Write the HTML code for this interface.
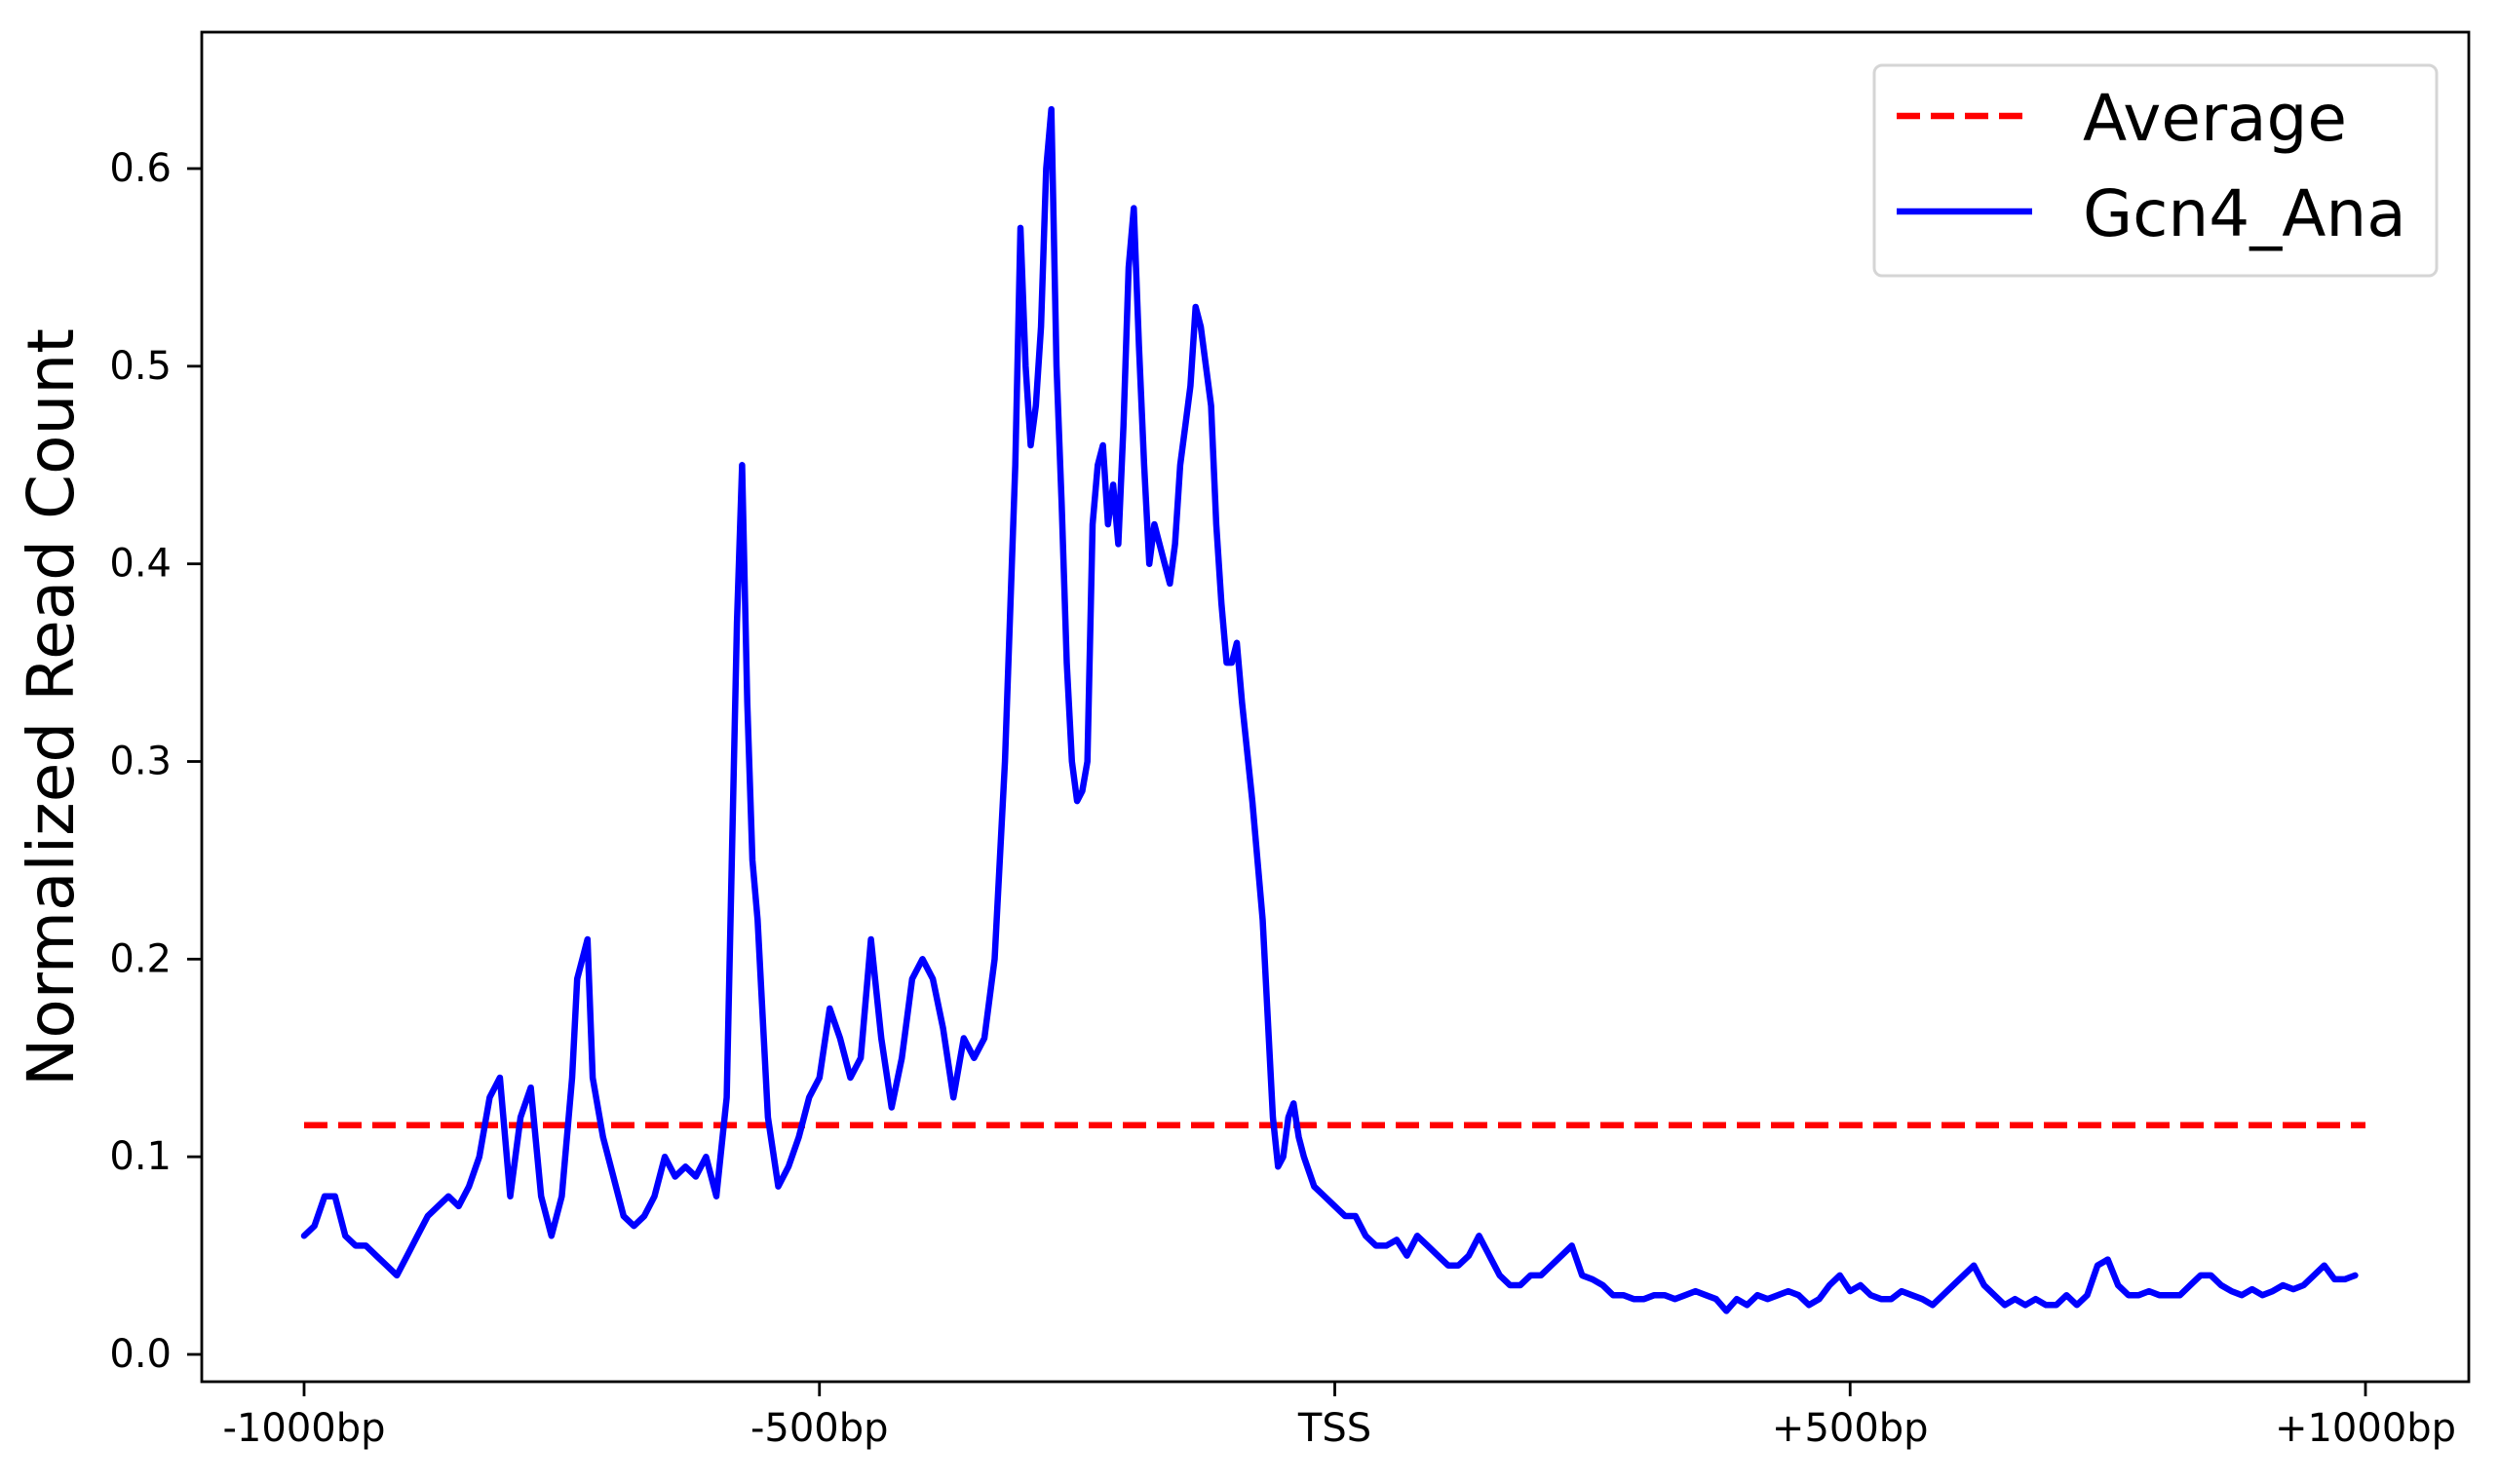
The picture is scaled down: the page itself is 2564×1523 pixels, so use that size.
<!DOCTYPE html>
<html><head><meta charset="utf-8"><style>
body{margin:0;background:#fff;}
svg text{font-family:"DejaVu Sans","Liberation Sans",sans-serif;fill:#000;}
</style></head><body>
<svg id="chart" width="2564" height="1518" xmlns="http://www.w3.org/2000/svg">
<rect width="2564" height="1518" fill="#fff"/>
<g id="plot"></g>
<rect x="207" y="33" width="2326" height="1385" fill="none" stroke="#000" stroke-width="2.8"/>
<g id="axes"></g>
<text x="57" y="726" font-size="66" text-anchor="middle" dominant-baseline="middle" transform="rotate(-90 57 726)">Normalized Read Count</text>
<g>
<rect x="1923" y="67" width="577" height="216" rx="8" fill="#fff" stroke="#d5d5d5" stroke-width="3"/>
<line x1="1946" y1="119" x2="2085" y2="119" stroke="#f00" stroke-width="6.5" stroke-dasharray="24,11"/>
<text x="2137" y="144" font-size="66">Average</text>
<line x1="1946" y1="217" x2="2085" y2="217" stroke="#00f" stroke-width="6.5"/>
<text x="2137" y="242" font-size="66">Gcn4_Ana</text>
</g>
</svg>
<script>
const positions=[-1000,-990,-980,-970,-960,-950,-940,-930,-920,-910,-900,-890,-880,-870,-860,-850,-840,-830,-820,-810,-800,-790,-780,-770,-760,-750,-740,-735,-730,-725,-720,-710,-700,-690,-680,-670,-660,-650,-640,-630,-620,-610,-600,-590,-580,-575,-570,-565,-560,-550,-540,-530,-520,-510,-500,-490,-480,-470,-460,-450,-440,-430,-420,-410,-400,-390,-380,-370,-360,-350,-340,-330,-320,-310,-305,-300,-295,-290,-285,-280,-275,-270,-265,-260,-255,-250,-245,-240,-235,-230,-225,-220,-215,-210,-205,-200,-195,-190,-185,-180,-175,-170,-165,-160,-155,-150,-145,-140,-135,-130,-125,-120,-115,-110,-105,-100,-95,-90,-80,-70,-60,-55,-50,-45,-40,-35,-30,-20,-10,0,10,20,30,40,50,60,70,80,90,100,110,120,130,140,150,160,170,180,190,200,210,220,230,240,250,260,270,280,290,300,310,320,330,340,350,360,370,380,390,400,410,420,430,440,450,460,470,480,490,500,510,520,530,540,550,560,570,580,590,600,610,620,630,640,650,660,670,680,690,700,710,720,730,740,750,760,770,780,790,800,810,820,830,840,850,860,870,880,890,900,910,920,930,940,950,960,970,980,990,1000];
const gcn4Values=[0.06,0.065,0.08,0.08,0.06,0.055,0.055,0.05,0.045,0.04,0.05,0.06,0.07,0.075,0.08,0.075,0.085,0.1,0.13,0.14,0.08,0.12,0.135,0.08,0.06,0.08,0.14,0.19,0.2,0.21,0.14,0.11,0.09,0.07,0.065,0.07,0.08,0.1,0.09,0.095,0.09,0.1,0.08,0.13,0.37,0.45,0.33,0.25,0.22,0.12,0.085,0.095,0.11,0.13,0.14,0.175,0.16,0.14,0.15,0.21,0.16,0.125,0.15,0.19,0.2,0.19,0.165,0.13,0.16,0.15,0.16,0.2,0.3,0.45,0.57,0.5,0.46,0.48,0.52,0.6,0.63,0.5,0.43,0.35,0.3,0.28,0.285,0.3,0.42,0.45,0.46,0.42,0.44,0.41,0.47,0.55,0.58,0.51,0.45,0.4,0.42,0.41,0.4,0.39,0.41,0.45,0.47,0.49,0.53,0.52,0.5,0.48,0.42,0.38,0.35,0.35,0.36,0.33,0.28,0.22,0.12,0.095,0.1,0.12,0.127,0.11,0.1,0.085,0.08,0.075,0.07,0.07,0.06,0.055,0.055,0.058,0.05,0.06,0.055,0.05,0.045,0.045,0.05,0.06,0.05,0.04,0.035,0.035,0.04,0.04,0.045,0.05,0.055,0.04,0.038,0.035,0.03,0.03,0.028,0.028,0.03,0.03,0.028,0.03,0.032,0.03,0.028,0.022,0.028,0.025,0.03,0.028,0.03,0.032,0.03,0.025,0.028,0.035,0.04,0.032,0.035,0.03,0.028,0.028,0.032,0.03,0.028,0.025,0.03,0.035,0.04,0.045,0.035,0.03,0.025,0.028,0.025,0.028,0.025,0.025,0.03,0.025,0.03,0.045,0.048,0.035,0.03,0.03,0.032,0.03,0.03,0.03,0.035,0.04,0.04,0.035,0.032,0.03,0.033,0.03,0.032,0.035,0.033,0.035,0.04,0.045,0.038,0.038,0.04];
const averageValue=0.116;
const yTicks=[0,0.1,0.2,0.3,0.4,0.5,0.6];
const yTickLabels=["0.0","0.1","0.2","0.3","0.4","0.5","0.6"];
const xTicks=[-1000,-500,0,500,1000];
const xTickLabels=["-1000bp","-500bp","TSS","+500bp","+1000bp"];

const NS="http://www.w3.org/2000/svg";
function xScale(p){return 312+(p+1000)/2000*(2427-312);}
function yScale(v){return 1390-v*(1390-173)/0.6;}
function mk(tag,attrs,parent){const e=document.createElementNS(NS,tag);for(const k in attrs)e.setAttribute(k,attrs[k]);parent.appendChild(e);return e;}
const plot=document.getElementById('plot');
const axes=document.getElementById('axes');

const avg=mk('line',{x1:xScale(-1000),x2:xScale(1000),y1:yScale(averageValue),y2:yScale(averageValue),stroke:'#f00','stroke-width':6.5,'stroke-dasharray':'24,11'},plot);



let d='';
positions.forEach((p,i)=>{d+=(i?'L':'M')+xScale(p).toFixed(1)+' '+yScale(gcn4Values[i]).toFixed(1);});
const ln=mk('path',{d:d,fill:'none',stroke:'#00f','stroke-width':6.5,'stroke-linejoin':'round','stroke-linecap':'round'},plot);



yTicks.forEach((v,i)=>{
  const y=yScale(v);
  const t=mk('line',{x1:192,x2:207,y1:y,y2:y,stroke:'#000','stroke-width':2.8},axes);
  
  
  const tx=mk('text',{x:176,y:y,'font-size':40,'text-anchor':'end','dominant-baseline':'central'},axes);
  tx.textContent=yTickLabels[i];
  
  
});
xTicks.forEach((p,i)=>{
  const x=xScale(p);
  const t=mk('line',{x1:x,x2:x,y1:1418,y2:1433,stroke:'#000','stroke-width':2.8},axes);
  
  
  const tx=mk('text',{x:x,y:1479,'font-size':40,'text-anchor':'middle'},axes);
  tx.textContent=xTickLabels[i];
  
  
});
</script>
</body></html>
